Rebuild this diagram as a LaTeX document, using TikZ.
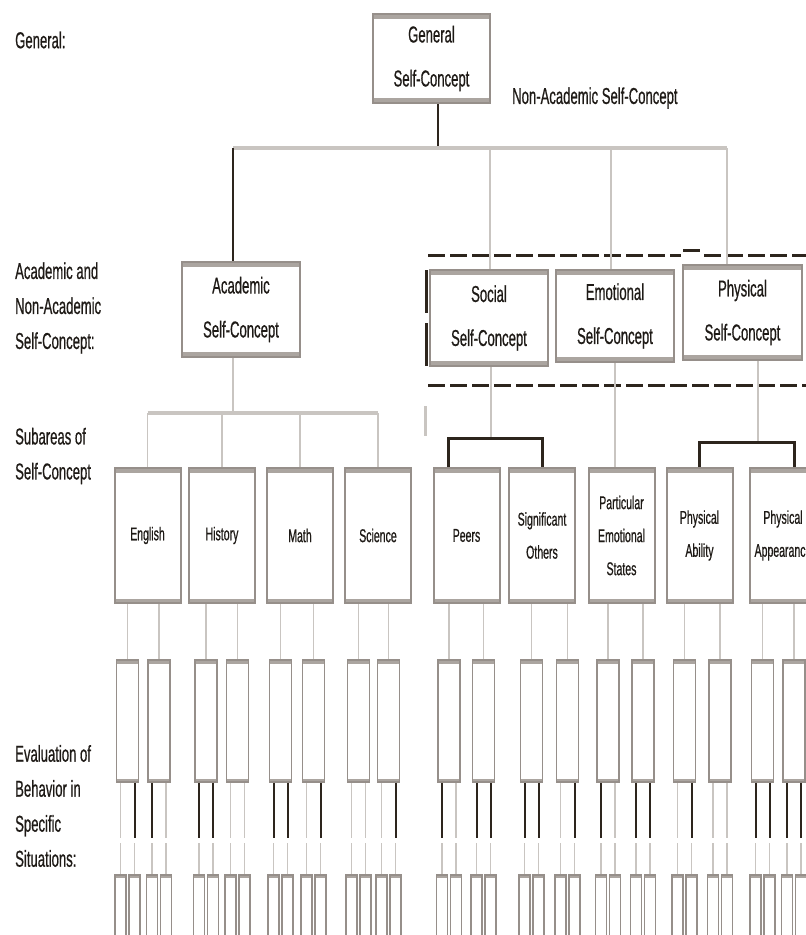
\documentclass[tikz,border=0pt]{standalone}
\usepackage{fontspec}
\setmainfont{Liberation Sans}[FakeStretch=0.57, FakeBold=0.6]
\usepackage{tikz}
\usetikzlibrary{positioning,calc}
\definecolor{scEdge}{HTML}{968F8A}
\definecolor{scBand}{HTML}{ABA5A0}
\definecolor{scLight}{HTML}{C9C5C1}
\definecolor{scDark}{HTML}{2D251D}
\definecolor{scText}{HTML}{1E1A16}
\newcommand{\titlefont}{\fontsize{23}{44}\selectfont}
\newcommand{\lblfont}{\fontsize{23}{35}\selectfont}
\newcommand{\subfont}{\fontsize{18.5}{33}\selectfont}

\begin{document}
\begin{tikzpicture}[x=1pt, y=-1pt,
  banded/.style={fill=white, inner sep=0pt, align=center, text=scText,
    path picture={\draw[scBand, line width=#1]
      (path picture bounding box.north west) -- (path picture bounding box.north east)
      (path picture bounding box.south west) -- (path picture bounding box.south east);}},
  concept/.style={banded=10pt, draw=scEdge, line width=2pt, font=\titlefont, minimum height=94pt, minimum width=118pt},
  subarea/.style={banded=9pt, draw=scEdge, line width=2pt, font=\subfont, minimum height=135pt, minimum width=66pt},
  evalbox/.style={banded=7pt, draw=scEdge, line width=1.8pt, minimum height=122pt, minimum width=22pt},
  leafbox/.style={banded=5pt, draw=scEdge, line width=1.5pt, minimum height=80pt, minimum width=11pt},
  level/.style={anchor=west, align=left, inner sep=0pt, font=\lblfont, text=scText},
  lightln/.style={draw=scLight, line width=1.5pt},
  barln/.style={draw=scLight, line width=4pt},
  darkln/.style={draw=scDark, line width=2pt},
  bracket/.style={draw=scDark, line width=3pt},
  up0/.style={lightln},
  up1/.style={darkln},
  dashln/.style={draw=scDark, line width=3pt, dash pattern=on 17pt off 5pt}
]
  \useasboundingbox (0,0) rectangle (806,935);
  \clip (0,0) rectangle (806,935);

  % level captions
  \node[level] (capGen) at (15,40) {General:};
  \node[level] (capAcad) at (15,308) {Academic and\\Non-Academic\\Self-Concept:};
  \node[level] (capSub) at (15,456) {Subareas of\\Self-Concept};
  \node[level] (capEval) at (15,806) {Evaluation of\\Behavior in\\Specific\\Situations:};

  % concepts
  \node[concept, minimum height=89pt, minimum width=117pt] (gen) at (431.5,58.5) {General\\Self-Concept};
  \node[level, font=\lblfont] (nonacad) at (512,98) {Non-Academic Self-Concept};
  \node[concept, minimum height=95pt] (acad) at (241,309.5) {Academic\\Self-Concept};
  \node[concept, minimum height=96pt] (soc) at (489,318) {Social\\Self-Concept};
  \node[concept, minimum height=92pt] (emo) at (615,316) {Emotional\\Self-Concept};
  \node[concept, minimum height=95pt, minimum width=119pt] (phys) at (742.5,312.5) {Physical\\Self-Concept};

  % non-academic frame
  \draw[dashln] (428,255) -- (681,255);
  \draw[scDark, line width=3pt] (683,250) -- (700,250);
  \draw[dashln] (704,255) -- (806,255);
  \draw[dashln] (428,385) -- (806,385);
  \draw[scDark, line width=3pt, dash pattern=on 43pt off 10pt] (426,270) -- (426,367);
  \draw[lightln, line width=3pt] (425,406) -- (425,436);

  % subareas
  \foreach \n/\x/\t in {eng/147.5/English, hist/222/History, math/300/Math, sci/378/Science,
      peer/466.5/Peers, sig/542/{Significant\\Others}, part/621.5/{Particular\\Emotional\\States},
      pab/699.5/{Physical\\Ability}, pap/783/{Physical\\Appearance}}
    \node[subarea] (\n) at (\x,535.5) {\t};

  % general to second level
  \coordinate (hub) at (438,148);
  \coordinate (tAc) at (233,148);
  \coordinate (tSo) at (490,148);
  \coordinate (tEm) at (611,148);
  \coordinate (tPh) at (727,148);
  \draw[darkln] (gen.south -| hub) -- (hub);
  \draw[barln] (tAc) -- (tPh);
  \draw[darkln] (tAc) -- (tAc |- acad.north);
  \draw[lightln] (tSo) -- (tSo |- soc.north);
  \draw[lightln] (tEm) -- (tEm |- emo.north);
  \draw[lightln] (tPh) -- (tPh |- phys.north);

  % second level to subareas
  \coordinate (aHub) at (233,413);
  \draw[lightln] (acad.south -| aHub) -- (aHub);
  \draw[barln] (eng.north |- aHub) -- (sci.north |- aHub);
  \foreach \n in {eng,hist,math,sci}
    \draw[lightln] (\n.north |- aHub) -- (\n.north);
  \coordinate (sHub) at (491,438);
  \draw[lightln] (soc.south -| sHub) -- (sHub);
  \draw[bracket] ([xshift=-18pt]peer.north) |- (sHub) -| (sig.north);
  \draw[lightln] (emo.south) -- (emo.south |- part.north);
  \coordinate (pHub) at (758,442);
  \draw[lightln] (phys.south -| pHub) -- (pHub);
  \draw[bracket] (pab.north) |- (pHub) -| ([xshift=11pt]pap.north);

  % evaluations of behaviour
  \foreach \x/\p/\l/\r [count=\i] in {127.5/eng/0/1, 159/eng/1/0, 206/hist/1/1, 237.5/hist/0/0,
      280.5/math/1/1, 313.5/math/0/1, 358.5/sci/0/0, 388.5/sci/0/1,
      449/peer/1/0, 483.5/peer/1/1, 531.5/sig/1/1, 567.5/sig/0/1,
      608/part/1/0, 643/part/1/1, 684.5/pab/0/1, 720/pab/0/0, 762.5/pap/1/1, 794/pap/1/1}{
    \node[evalbox] (e\i) at (\x,721) {};
    \draw[lightln] (\p.south -| e\i) -- (e\i.north);
    \node[leafbox] (l\i) at ({\x-7},915) {};
    \node[leafbox] (r\i) at ({\x+7},915) {};
    \coordinate (ml\i) at ({\x-7},838);
    \coordinate (mr\i) at ({\x+7},838);
    \draw[up\l] (e\i.south -| ml\i) -- (ml\i);
    \draw[up\r] (e\i.south -| mr\i) -- (mr\i);
    \draw[lightln] ([yshift=-5pt]ml\i) -- (l\i.north);
    \draw[lightln] ([yshift=-5pt]mr\i) -- (r\i.north);
  }
\end{tikzpicture}
\end{document}
